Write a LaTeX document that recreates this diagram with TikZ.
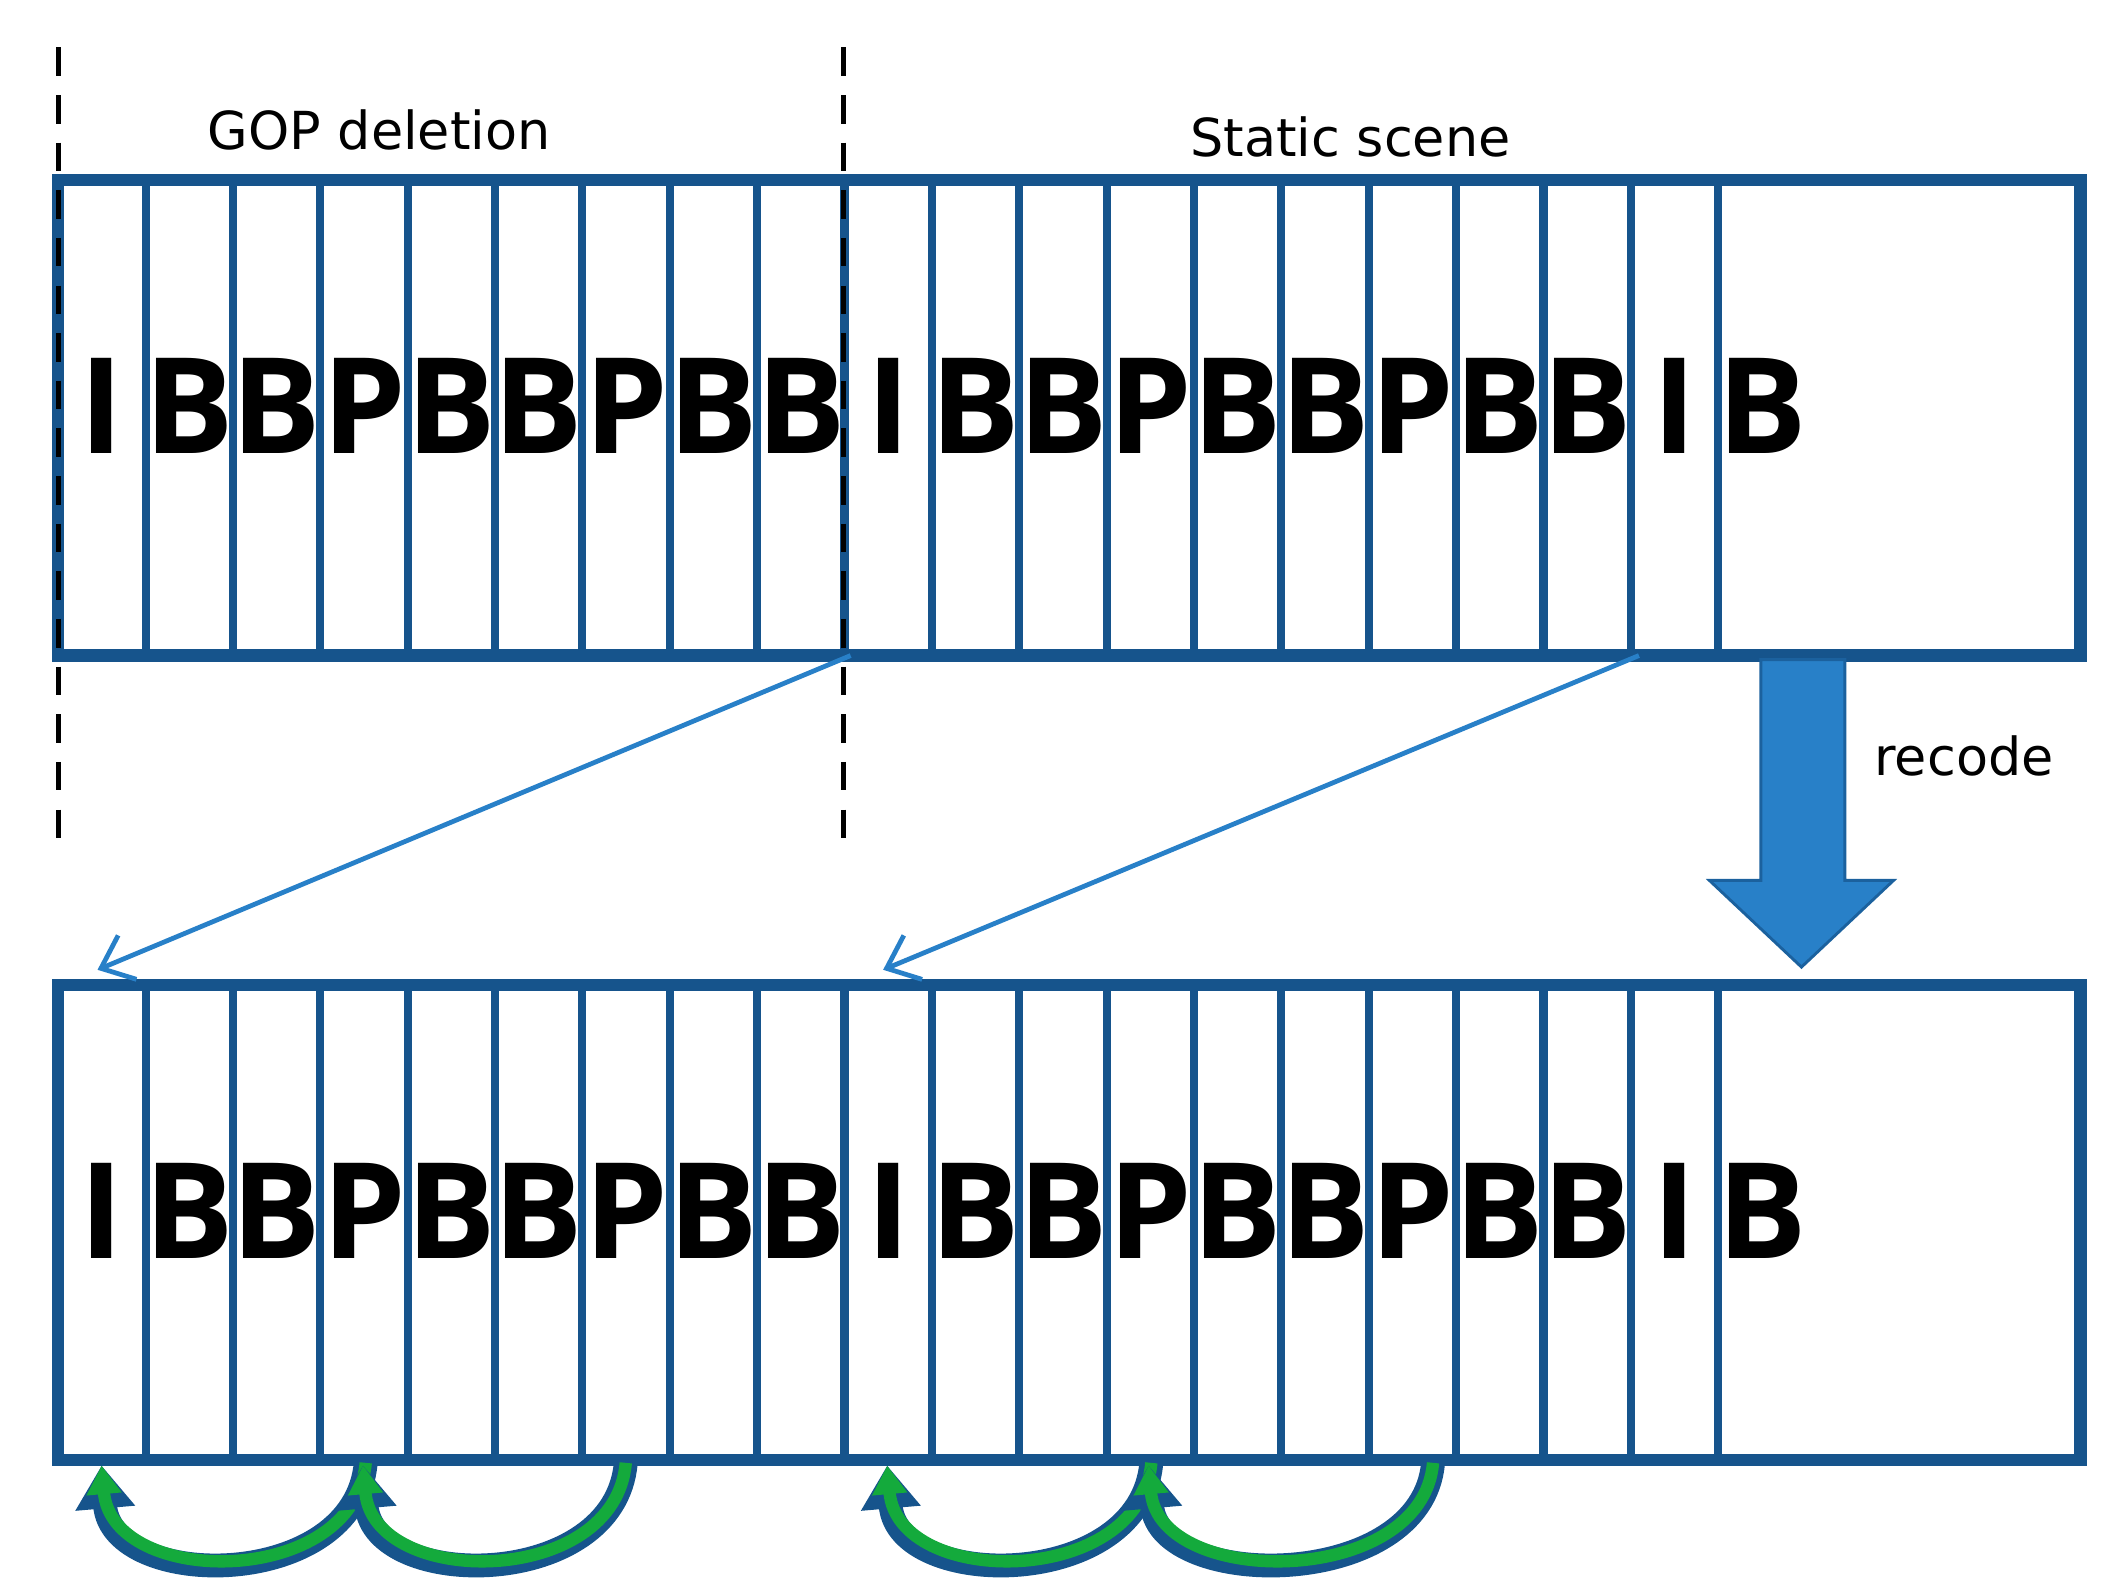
\documentclass[tikz,border=0pt]{standalone}
\usepackage{fontspec}
\setmainfont{DejaVu Sans}
\newfontfamily\letterfont{Open Sans}
\usetikzlibrary{arrows.meta}
\definecolor{frameblue}{RGB}{22,84,140}
\definecolor{arrowblue}{RGB}{40,128,200}
\definecolor{gopgreen}{RGB}{20,170,60}
\tikzset{
  frame/.style={draw=frameblue, line width=2.6pt},
  divider/.style={draw=frameblue, line width=1.7pt},
  frametype/.style={font=\letterfont\fontsize{28}{28}\selectfont\bfseries, inner sep=0pt},
  caption/.style={font=\fontsize{11}{11}\selectfont},
  cut/.style={draw=black, line width=1.1pt, dash pattern=on 6pt off 4pt},
  refarrow/.style={draw=arrowblue, line width=1pt, -{Straight Barb[length=6pt,width=10pt]}},
  gopouter/.style={draw=frameblue, line width=5pt, -{Triangle[length=9pt,width=12pt]}},
  gopinner/.style={draw=gopgreen, line width=2.6pt, -{Triangle[length=6pt,width=7pt]}}
}
\begin{document}
\begin{tikzpicture}[x=0.01cm, y=-0.01cm]
 	\useasboundingbox (0,0) rectangle (1560,1174);
 	
 	% two rows of frames
 	\foreach \row/\top in {t/133, b/727} {
 		\pgfmathsetmacro{\bot}{\top+351}
 		\foreach \i in {1,...,19}
 			\draw [divider] (43+\i*64.5,\top) -- (43+\i*64.5,\bot);
 		\draw [frame] (43,\top) rectangle (1536,\bot);
 		\foreach \l [count=\i] in {I,B,B,P,B,B,P,B,B,I,B,B,P,B,B,P,B,B,I,B}
 			\node [frametype] (\row\i) at (43+\i*64.5-32.25,\top+167) {\l};
 	}
 	
 	% labels and cut lines
 	\draw [cut] (43,35) -- (43,625);
 	\draw [cut] (623,35) -- (623,625);
 	\node [caption] (gop) at (280,96) {GOP deletion};
 	\node [caption] (static) at (997,101) {Static scene};
 	\node [caption] (recode) at (1450,558) {recode};
 	
 	% moved frames
 	\coordinate (from1) at (628,484);
 	\coordinate (to1) at (72,716);
 	\coordinate (from2) at (1210,484);
 	\coordinate (to2) at (652,716);
 	\draw [refarrow] (from1) -- (to1);
 	\draw [refarrow] (from2) -- (to2);
 	
 	% recode arrow
 	\filldraw [fill=arrowblue, draw=frameblue!70!arrowblue, line width=0.6pt]
 		(1300,487) -- (1362,487) -- (1362,650) -- (1398,650) -- (1330,714)
 		-- (1262,650) -- (1300,650) -- cycle;
 	
 	% references inside the GOPs
 	\foreach \a/\b in {270/75, 462/268, 850/655, 1058/848} {
 		\coordinate (tail) at (\a,1080);
 		\coordinate (head) at (\b,1082);
 		\draw [gopouter] (tail) .. controls (\a-8,1175) and (\b+8,1175) .. (head);
 		\draw [gopinner] (tail) .. controls (\a-8,1173) and (\b+8,1173) .. (head);
 	}
\end{tikzpicture}
\end{document}
